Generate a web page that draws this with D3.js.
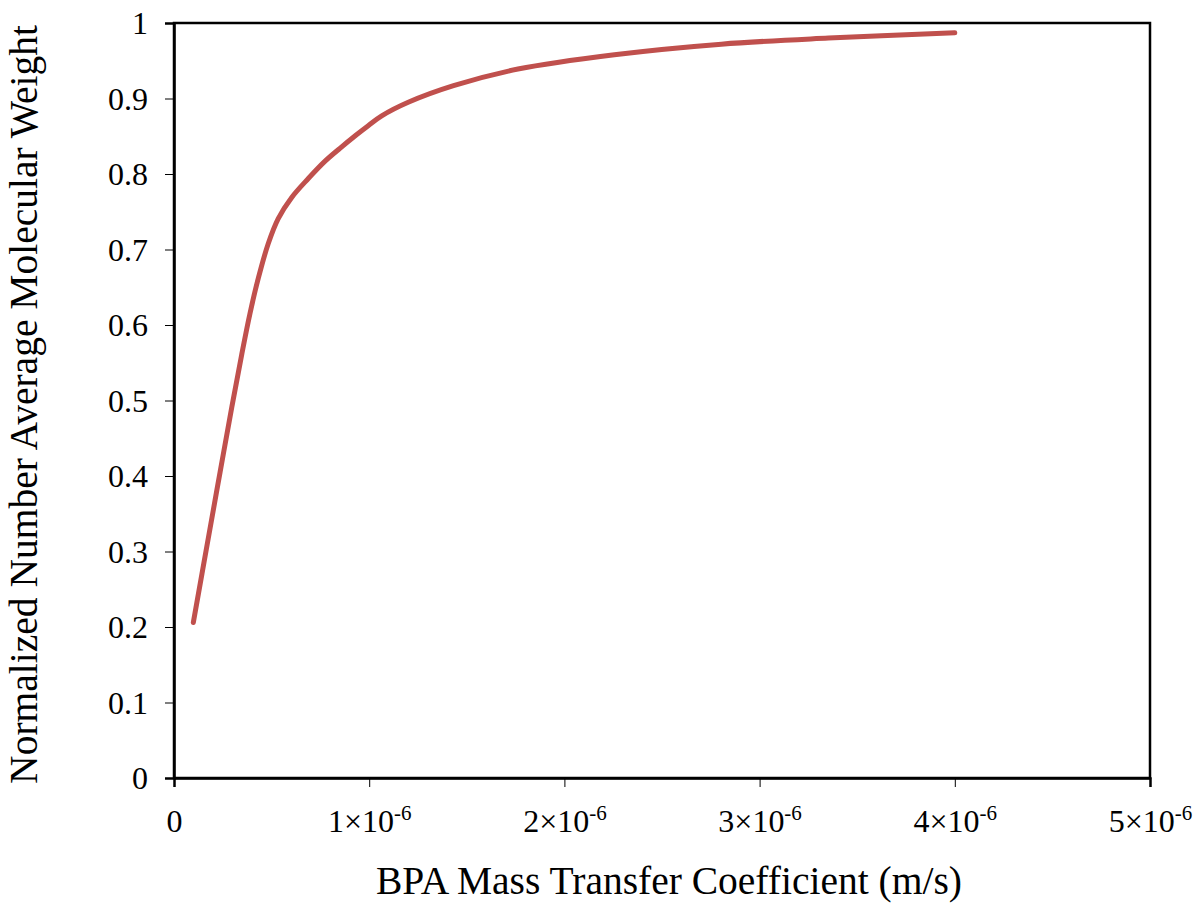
<!DOCTYPE html>
<html>
<head>
<meta charset="utf-8">
<script src="https://cdn.jsdelivr.net/npm/d3@7"></script>
<style>
  html, body { margin: 0; padding: 0; background: #fff; }
  svg { display: block; }
  text { font-family: "Liberation Serif", "Times New Roman", serif; fill: #000; }
</style>
</head>
<body>
<script>
// BPA mass transfer coefficient (m/s)
const massTransfer = [
  0.99e-7, 1.76e-7, 2.36e-7, 2.96e-7, 3.47e-7, 3.89e-7, 4.32e-7, 4.83e-7,
  5.34e-7, 6.03e-7, 6.88e-7, 7.74e-7, 8.5e-7, 9.3e-7, 9.95e-7, 1.064e-6,
  1.2e-6, 1.432e-6, 1.762e-6, 2.256e-6, 2.804e-6, 3.353e-6, 4.0e-6
];
// Normalized number average molecular weight
const normMn = [
  0.206, 0.318, 0.405, 0.491, 0.561, 0.615, 0.662, 0.708,
  0.741, 0.769, 0.794, 0.817, 0.834, 0.851, 0.864, 0.877,
  0.895, 0.917, 0.939, 0.958, 0.972, 0.980, 0.987
];
const xTicks = [0, 1e-6, 2e-6, 3e-6, 4e-6, 5e-6];
const yTicks = [0, 0.1, 0.2, 0.3, 0.4, 0.5, 0.6, 0.7, 0.8, 0.9, 1];
const xTitle = "BPA Mass Transfer Coefficient (m/s)";
const yTitle = "Normalized Number Average Molecular Weight";

const W = 1193, H = 903;
const plot = { left: 174, top: 23, right: 1150, bottom: 778 };

const svg = d3.select("body").append("svg").attr("width", W).attr("height", H);

const x = d3.scaleLinear().domain([0, 5e-6]).range([plot.left, plot.right]);
const y = d3.scaleLinear().domain([0, 1]).range([plot.bottom, plot.top]);

// Frame around the plot area
svg.append("rect")
  .attr("x", plot.left).attr("y", plot.top)
  .attr("width", plot.right - plot.left).attr("height", plot.bottom - plot.top)
  .attr("fill", "none").attr("stroke", "#000").attr("stroke-width", 2.5);

// Y axis
const yAxis = svg.append("g")
  .attr("transform", `translate(${plot.left},0)`)
  .call(d3.axisLeft(y).tickValues(yTicks).tickSize(9).tickPadding(17)
    .tickFormat(d => d === 0 ? "0" : d === 1 ? "1" : d3.format(".1f")(d)));
yAxis.select(".domain").attr("stroke", "#000").attr("stroke-width", 2.5);
yAxis.selectAll(".tick line").attr("stroke", "#000").attr("stroke-width", 1);
yAxis.selectAll(".tick text").attr("font-size", 32).attr("dy", "0.33em")
  .attr("font-family", "Liberation Serif").attr("fill", "#000");

// X axis with scientific labels
const xAxis = svg.append("g")
  .attr("transform", `translate(0,${plot.bottom})`)
  .call(d3.axisBottom(x).tickValues(xTicks).tickSize(9).tickPadding(16).tickFormat(""));
xAxis.select(".domain").attr("stroke", "#000").attr("stroke-width", 2.5);
xAxis.selectAll(".tick line").attr("stroke", "#000").attr("stroke-width", 1);
xAxis.selectAll(".tick").each(function (d) {
  const t = d3.select(this).append("text")
    .attr("y", 54).attr("text-anchor", "middle")
    .attr("font-size", 32);
  if (d === 0) {
    t.text("0");
  } else {
    const m = Math.round(d / 1e-6);
    t.append("tspan").text(m + "\u00d710");
    t.append("tspan").attr("font-size", 21).attr("dy", -12).text("-6");
  }
});

// Axis titles
svg.append("text")
  .attr("x", 669).attr("y", 894)
  .attr("text-anchor", "middle").attr("font-size", 39.5)
  .text(xTitle);

svg.append("text")
  .attr("transform", `translate(37,${(plot.top + plot.bottom) / 2 + 4}) rotate(-90)`)
  .attr("text-anchor", "middle").attr("font-size", 39.5)
  .text(yTitle);

// Model curve
const line = d3.line()
  .x((d, i) => x(massTransfer[i]))
  .y(d => y(d))
  .curve(d3.curveCatmullRom.alpha(0.5));

svg.append("path")
  .datum(normMn)
  .attr("d", line)
  .attr("fill", "none")
  .attr("stroke", "#c0504d")
  .attr("stroke-width", 5)
  .attr("stroke-linecap", "round")
  .attr("stroke-linejoin", "round");
</script>
</body>
</html>
